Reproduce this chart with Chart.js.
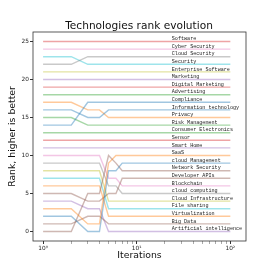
<!DOCTYPE html>
<html>
<head>
<meta charset="utf-8">
<script src="https://cdn.jsdelivr.net/npm/chart.js"></script>
<style>
  body { margin: 0; background: #fff; }
</style>
</head>
<body>
<canvas id="myChart" width="272" height="272"></canvas>
<script>
// iterations where the ranking was sampled (ranks stay flat after 8)
var iterations = [1, 2, 3, 4, 5, 6, 7, 8, 100];

var technologies = [
    "Software", "Cyber Security", "Cloud Security", "Security", "Enterprise Software",
    "Marketing", "Digital Marketing", "Advertising", "Compliance", "Information technology",
    "Privacy", "Risk Management", "Consumer Electronics", "Sensor", "Smart Home",
    "SaaS", "cloud Management", "Network Security", "Developer APIs", "Blockchain",
    "cloud computing", "Cloud Infrastructure", "File sharing", "Virtualization", "Big Data",
    "Artificial intelligence"
];

// rank of each technology at every iteration above
var ranks = [
    [25, 25, 25, 25, 25, 25, 25, 25, 25],
    [24, 24, 24, 24, 24, 24, 24, 24, 24],
    [22, 22, 23, 23, 23, 23, 23, 23, 23],
    [23, 23, 22, 22, 22, 22, 22, 22, 22],
    [21, 21, 21, 21, 21, 21, 21, 21, 21],
    [20, 20, 20, 20, 20, 20, 20, 20, 20],
    [19, 19, 19, 19, 19, 19, 19, 19, 19],
    [18, 18, 18, 18, 18, 18, 18, 18, 18],
    [14, 14, 17, 17, 17, 17, 17, 17, 17],
    [16, 16, 15, 15, 16, 16, 16, 16, 16],
    [17, 17, 16, 16, 15, 15, 15, 15, 15],
    [15, 15, 14, 14, 14, 14, 14, 14, 14],
    [13, 13, 13, 13, 13, 13, 13, 13, 13],
    [12, 12, 12, 12, 12, 12, 12, 12, 12],
    [11, 11, 11, 11, 11, 11, 11, 11, 11],
    [3, 3, 1, 1, 9, 10, 10, 10, 10],
    [2, 2, 0, 0, 8, 8, 9, 9, 9],
    [0, 0, 5, 5, 10, 9, 8, 8, 8],
    [5, 5, 4, 4, 5, 5, 7, 7, 7],
    [10, 10, 10, 10, 7, 7, 6, 6, 6],
    [9, 9, 9, 9, 6, 6, 5, 5, 5],
    [8, 8, 8, 8, 4, 4, 4, 4, 4],
    [7, 7, 7, 7, 3, 3, 3, 3, 3],
    [6, 6, 6, 6, 2, 2, 2, 2, 2],
    [1, 1, 2, 2, 1, 1, 1, 1, 1],
    [4, 4, 3, 3, 0, 0, 0, 0, 0]
];

var yTicks = [0, 5, 10, 15, 20, 25];
var xMajorTicks = [1, 10, 100];
var xTickLabels = ["10\u2070", "10\u00b9", "10\u00b2"];
var xMinorTicks = [2, 3, 4, 5, 6, 7, 8, 9, 20, 30, 40, 50, 60, 70, 80, 90];

var tab = {
    blue: "31,119,180", orange: "255,127,14", green: "44,160,44", red: "214,39,40",
    purple: "148,103,189", brown: "140,86,75", pink: "227,119,194", gray: "127,127,127",
    olive: "188,189,34", cyan: "23,190,207"
};
var lineColors = [
    "red", "pink", "gray", "cyan", "olive", "purple", "red", "green", "blue", "blue",
    "orange", "green", "green", "red", "purple", "orange", "blue", "brown", "brown", "pink",
    "gray", "olive", "cyan", "orange", "brown", "purple"
];

Chart.defaults.font.family = "'DejaVu Sans', sans-serif";

var endLabels = {
    id: "endLabels",
    afterDatasetsDraw: function (chart) {
        var ctx = chart.ctx;
        var x = chart.scales.x.getPixelForValue(23.7);
        ctx.save();
        ctx.font = "5.1px 'Liberation Mono', monospace";
        ctx.fillStyle = "#222";
        ctx.textBaseline = "alphabetic";
        chart.data.datasets.forEach(function (ds) {
            var last = ds.data[ds.data.length - 1];
            ctx.fillText(ds.label, x, chart.scales.y.getPixelForValue(last.y) - 1.3);
        });
        var a = chart.chartArea;
        ctx.strokeStyle = "#333";
        ctx.lineWidth = 0.8;
        ctx.strokeRect(a.left, a.top, a.right - a.left, a.bottom - a.top);
        ctx.restore();
    }
};

var datasets = technologies.map(function (name, i) {
    return {
        label: name,
        data: iterations.map(function (it, j) { return { x: it, y: ranks[i][j] }; }),
        borderColor: "rgba(" + tab[lineColors[i]] + ",0.42)",
        borderWidth: 1.4,
        pointRadius: 0,
        fill: false,
        tension: 0
    };
});

var ctx = document.getElementById("myChart").getContext("2d");
var myChart = new Chart(ctx, {
    type: "line",
    data: { datasets: datasets },
    options: {
        responsive: false,
        animation: false,
        layout: { padding: { left: 6, right: 0, top: 0, bottom: 10.4 } },
        plugins: {
            legend: { display: false },
            tooltip: { enabled: false },
            title: {
                display: true,
                text: "Technologies rank evolution",
                color: "#111",
                font: { size: 10.6, weight: "normal", lineHeight: 1 },
                padding: { top: 21.4, bottom: 0 }
            }
        },
        scales: {
            x: {
                type: "logarithmic",
                min: 0.78,
                max: 147,
                afterBuildTicks: function (scale) {
                    var all = xMajorTicks.concat(xMinorTicks).sort(function (a, b) { return a - b; });
                    scale.ticks = all.map(function (v) { return { value: v, major: xMajorTicks.indexOf(v) >= 0 }; });
                },
                afterFit: function (scale) { scale.height = 272 - 241 - 10.4; },
                border: { display: false },
                grid: {
                    drawOnChartArea: false,
                    tickLength: 3,
                    tickColor: function (c) { return c.tick && c.tick.major ? "#333" : "#aaa"; }
                },
                ticks: {
                    autoSkip: false,
                    maxRotation: 0,
                    padding: 1,
                    color: "#222",
                    font: { size: 5.8 },
                    callback: function (v) {
                        var k = xMajorTicks.indexOf(v);
                        return k >= 0 ? xTickLabels[k] : "";
                    }
                },
                title: { display: true, text: "Iterations", color: "#111", font: { size: 9.3 }, padding: 0 }
            },
            y: {
                min: -1.25,
                max: 26.25,
                afterBuildTicks: function (scale) {
                    scale.ticks = yTicks.map(function (v) { return { value: v }; });
                },
                afterFit: function (scale) { scale.width = 27; },
                border: { display: false },
                grid: { drawOnChartArea: false, tickLength: 3, tickColor: "#333" },
                ticks: { padding: 1, color: "#222", font: { size: 5.8 } },
                title: {
                    display: true,
                    text: "Rank, higher is better",
                    color: "#111",
                    font: { size: 9.3 },
                    padding: { top: 1.4, bottom: 0 }
                }
            },
            // empty right-hand box so the frame stops where the reference's does
            yRight: {
                position: "right",
                display: true,
                min: -1.25,
                max: 26.25,
                afterFit: function (scale) { scale.width = 26; },
                border: { display: false },
                grid: { display: false },
                ticks: { display: false }
            }
        }
    },
    plugins: [endLabels]
});
</script>
</body>
</html>
